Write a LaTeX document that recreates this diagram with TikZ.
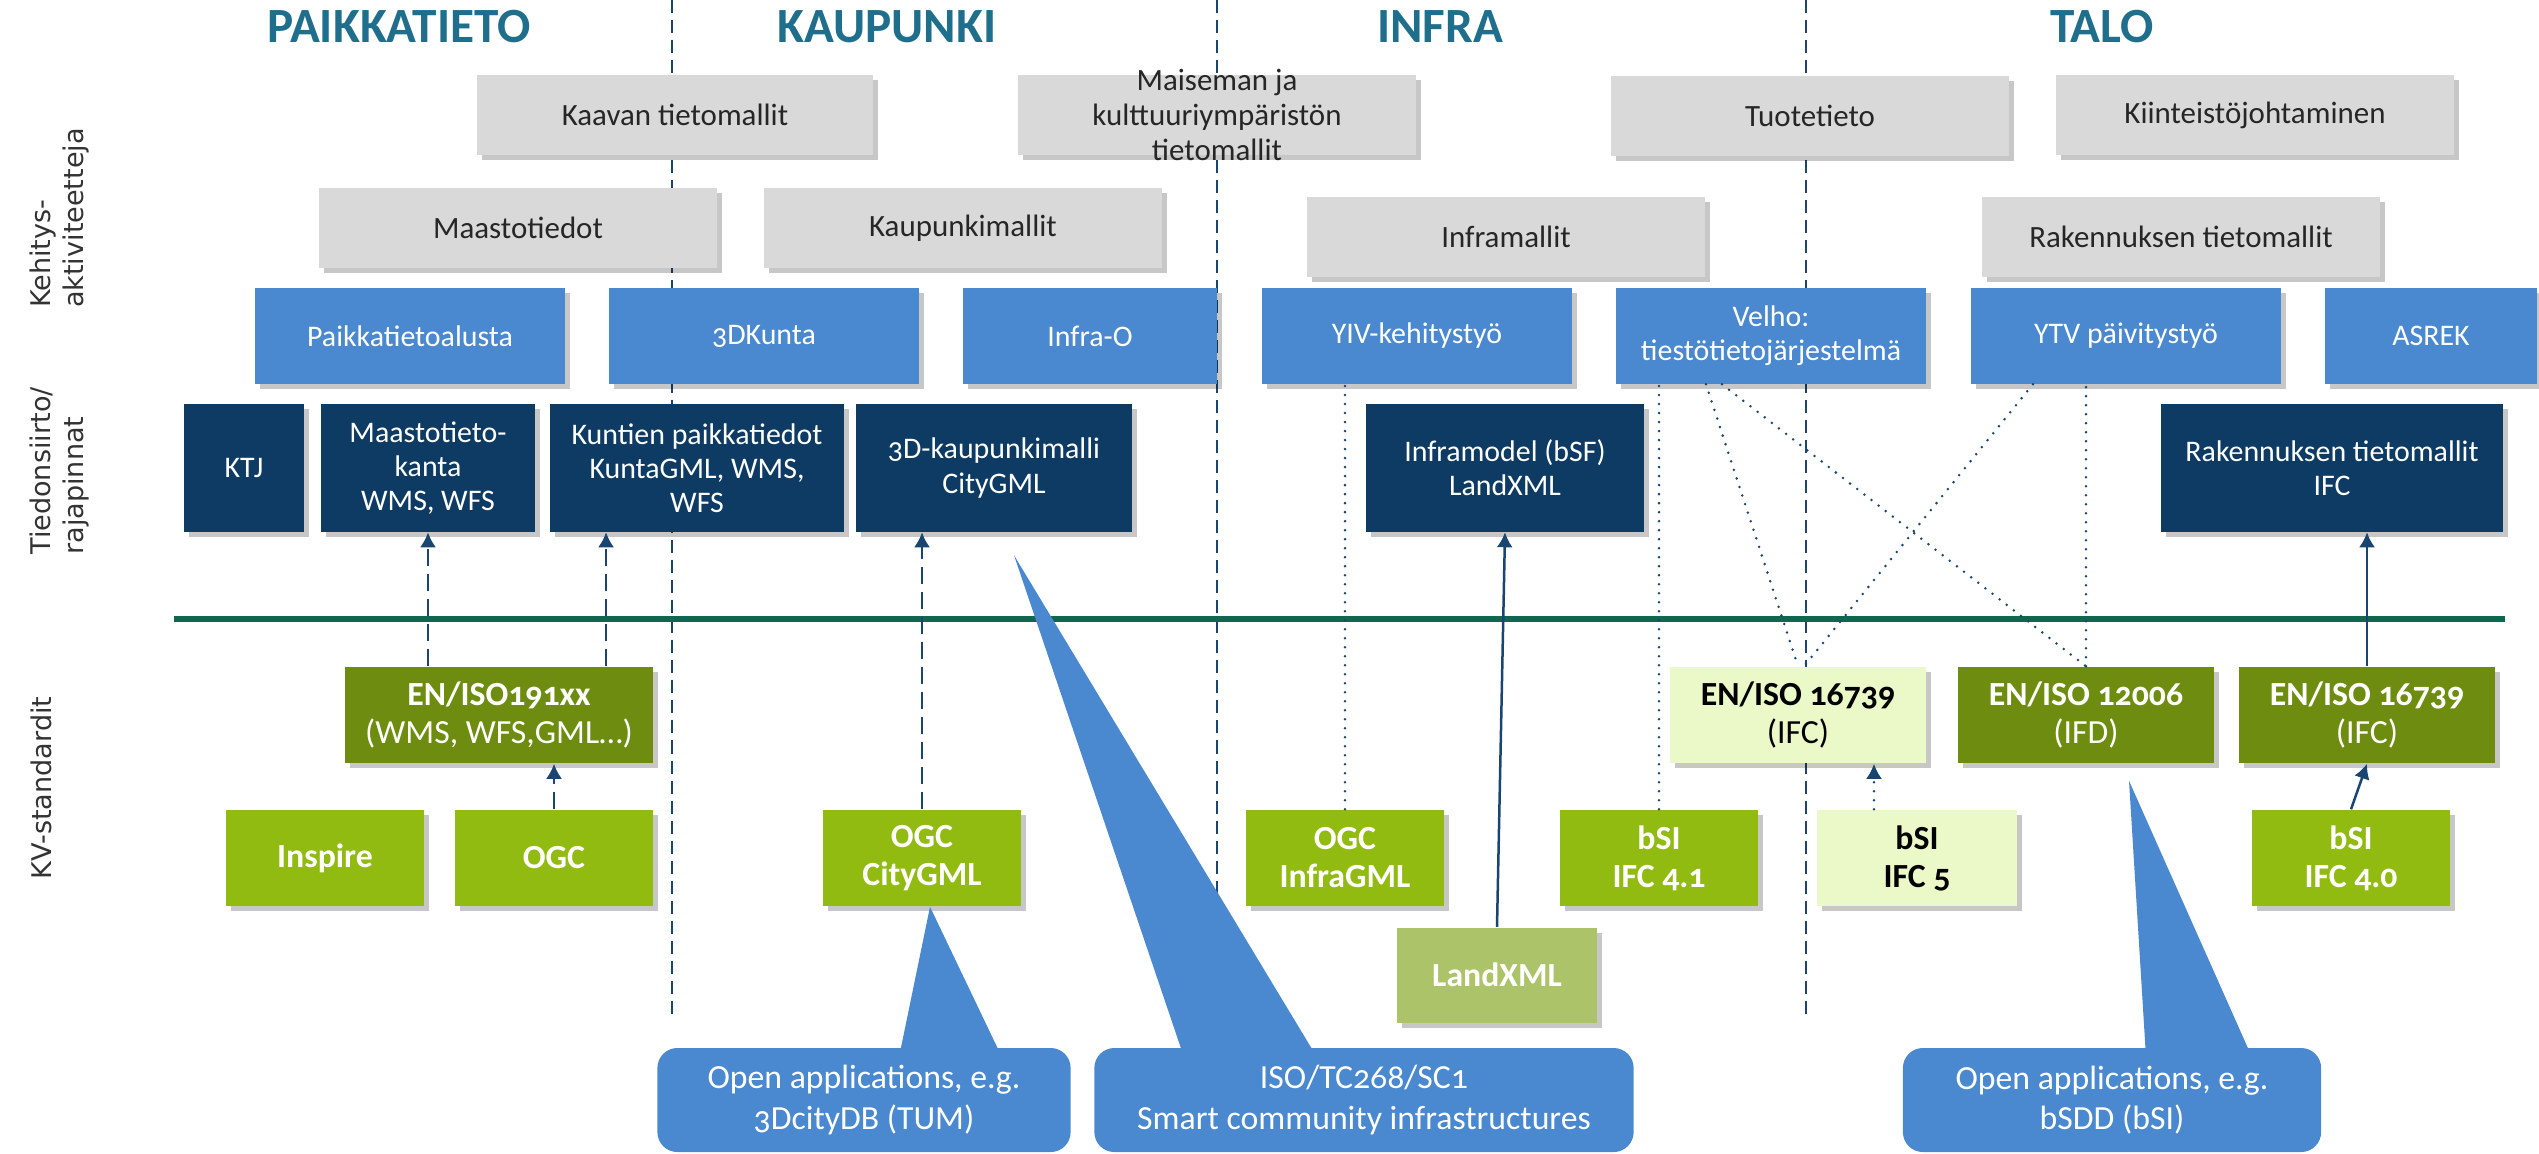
\documentclass[tikz,border=0pt]{standalone}
\usepackage{fontspec}
\setmainfont{Carlito}[Numbers=OldStyle]
\newfontfamily\sidefont{DejaVu Sans}
\usetikzlibrary{calc,shadows,arrows.meta}

\definecolor{titleteal}{HTML}{1F6E8C}
\definecolor{boxgray}{HTML}{D9D9D9}
\definecolor{boxtext}{HTML}{262626}
\definecolor{actblue}{HTML}{4A88CF}
\definecolor{ifnavy}{HTML}{0E3B64}
\definecolor{stdolive}{HTML}{6E8D10}
\definecolor{stdgreen}{HTML}{92BB12}
\definecolor{stdpale}{HTML}{EBF8C8}
\definecolor{landgreen}{HTML}{ACC36A}
\definecolor{bargreen}{HTML}{0E6850}
\definecolor{linenavy}{HTML}{1A4570}
\definecolor{sidegray}{HTML}{333333}

\tikzset{
  sectitle/.style={text=titleteal, font=\fontsize{14}{16}\selectfont\bfseries},
  sidelab/.style={rotate=90, align=left, inner sep=0pt, text=sidegray,
    font={\sidefont\fontsize{7.7}{9.4}\selectfont}},
  boks/.style={inner sep=2pt, align=center,
    drop shadow={shadow xshift=0.05cm, shadow yshift=-0.05cm, opacity=0.22, fill=black}},
  graybox/.style={boks, fill=boxgray, text=boxtext, minimum height=0.8cm,
    font=\fontsize{8.8}{10}\selectfont},
  actbox/.style={boks, fill=actblue, text=white, minimum height=0.95cm,
    font=\fontsize{8.5}{9.7}\selectfont},
  ifbox/.style={boks, fill=ifnavy, text=white, minimum height=1.27cm,
    font=\fontsize{8.5}{9.7}\selectfont},
  stdbox/.style={boks, fill=stdolive, text=white, minimum height=0.96cm,
    font=\fontsize{9.6}{10.8}\selectfont},
  orgbox/.style={stdbox, fill=stdgreen, font=\fontsize{9.6}{10.8}\selectfont\bfseries},
  palebox/.style={text=black, fill=stdpale},
  callbox/.style={fill=actblue, text=white, rounded corners=0.2cm, align=center,
    minimum height=1.04cm, font=\fontsize{9.6}{11.4}\selectfont},
  divider/.style={linenavy, line width=0.025cm, dash pattern=on 0.13cm off 0.07cm},
  dasharrow/.style={linenavy, line width=0.025cm, dash pattern=on 0.17cm off 0.08cm,
    -{Latex[length=0.15cm,width=0.16cm]}},
  solidarrow/.style={linenavy, line width=0.025cm, -{Latex[length=0.15cm,width=0.16cm]}},
  dotline/.style={linenavy, line width=0.028cm, line cap=round, dash pattern=on 0pt off 0.09cm},
  dotarrow/.style={dotline, -{Latex[length=0.15cm,width=0.16cm]}}
}

\begin{document}
\begin{tikzpicture}[x=0.01cm, y=-0.01cm]
\useasboundingbox (0,0) rectangle (2539,1153);

% section dividers and the standards line
\foreach \x in {672,1217,1806}
  \draw[divider] (\x,0) -- (\x,1017);
\draw[bargreen, line width=0.06cm] (174,619) -- (2505,619);

% titles
\node[sectitle] (paikka) at (399,27) {PAIKKATIETO};
\node[sectitle] (kaupunki) at (887,27) {KAUPUNKI};
\node[sectitle] (infra) at (1440,27) {INFRA};
\node[sectitle] (talo) at (2102,27) {TALO};

% row labels
\node[sidelab] (kehlab) at (60,218) {Kehitys-\\aktiviteetteja};
\node[sidelab] (tiedlab) at (60,471) {Tiedonsiirto/\\rajapinnat};
\node[sidelab] (kvlab) at (41,788) {KV-standardit};

% development activities
\node[graybox, minimum width=3.95cm] (kaava) at (675,115) {Kaavan tietomallit};
\node[graybox, minimum width=3.98cm, inner ysep=-0.15cm] (maisema) at (1217,115) {Maiseman ja\\kulttuuriympäristön\\tietomallit};
\node[graybox, minimum width=3.97cm] (tuote) at (1810,116) {Tuotetieto};
\node[graybox, minimum width=3.98cm] (kiint) at (2255,115) {Kiinteistöjohtaminen};
\node[graybox, minimum width=3.97cm] (maasto) at (518,228) {Maastotiedot};
\node[graybox, minimum width=3.97cm] (kaupmal) at (963,228) {Kaupunkimallit};
\node[graybox, minimum width=3.97cm] (inframal) at (1506,237) {Inframallit};
\node[graybox, minimum width=3.97cm] (raktm) at (2181,237) {Rakennuksen tietomallit};

\node[actbox, minimum width=3.10cm] (paikal) at (410,336) {Paikkatietoalusta};
\node[actbox, minimum width=3.09cm] (kunta) at (764,336) {3DKunta};
\node[actbox, minimum width=2.53cm] (infrao) at (1090,336) {Infra-O};
\node[actbox, minimum width=3.10cm] (yiv) at (1417,336) {YIV-kehitystyö};
\node[actbox, minimum width=3.10cm] (velho) at (1771,336) {Velho:\\tiestötietojärjestelmä};
\node[actbox, minimum width=3.10cm] (ytv) at (2126,336) {YTV päivitystyö};
\node[actbox, minimum width=2.12cm] (asrek) at (2431,336) {ASREK};

% interfaces
\node[ifbox, minimum width=1.20cm] (ktj) at (244,468) {KTJ};
\node[ifbox, minimum width=2.13cm] (mtk) at (428,468) {Maastotieto-\\kanta\\WMS, WFS};
\node[ifbox, minimum width=2.93cm] (kuntien) at (697,468) {Kuntien paikkatiedot\\KuntaGML, WMS,\\WFS};
\node[ifbox, minimum width=2.75cm] (kaup3d) at (994,468) {3D-kaupunkimalli\\CityGML};
\node[ifbox, minimum width=2.78cm] (infmod) at (1505,468) {Inframodel (bSF)\\LandXML};
\node[ifbox, minimum width=3.42cm] (rakifc) at (2332,468) {Rakennuksen tietomallit\\IFC};

% standards
\node[stdbox, minimum width=3.07cm] (en191) at (499,715) {\textbf{EN/ISO191xx}\\(WMS, WFS,GML\dots)};
\node[stdbox, palebox, minimum width=2.55cm] (en16739a) at (1798,715) {\textbf{EN/ISO 16739}\\(IFC)};
\node[stdbox, minimum width=2.56cm] (en12006) at (2086,715) {\textbf{EN/ISO 12006}\\(IFD)};
\node[stdbox, minimum width=2.55cm] (en16739b) at (2367,715) {\textbf{EN/ISO 16739}\\(IFC)};

\node[orgbox, minimum width=1.97cm] (inspire) at (325,858) {Inspire};
\node[orgbox, minimum width=1.98cm] (ogc) at (554,858) {OGC};
\node[orgbox, minimum width=1.97cm] (ogccity) at (922,858) {OGC\\CityGML};
\node[orgbox, minimum width=1.97cm] (infragml) at (1345,858) {OGC\\InfraGML};
\node[orgbox, minimum width=1.98cm] (bsi41) at (1659,858) {bSI\\IFC 4.1};
\node[orgbox, palebox, minimum width=1.99cm] (bsi5) at (1917,858) {bSI\\IFC 5};
\node[orgbox, minimum width=1.98cm] (bsi40) at (2351,858) {bSI\\IFC 4.0};
\node[orgbox, fill=landgreen, minimum width=1.99cm, minimum height=0.95cm] (landxml) at (1497,975) {LandXML};

% connectors
\draw[dasharrow] (mtk.south |- en191.north) -- (mtk.south);
\draw[dasharrow] ([xshift=1.07cm]en191.north) -- ([xshift=1.07cm]en191.north |- kuntien.south);
\draw[dasharrow] (ogc.north) -- (ogc.north |- en191.south);
\draw[dasharrow] (ogccity.north) -- (ogccity.north |- kaup3d.south);
\draw[solidarrow] (landxml.north) -- (infmod.south);
\draw[solidarrow] (bsi40.north) -- (en16739b.south);
\draw[solidarrow] (en16739b.north) -- (en16739b.north |- rakifc.south);
\draw[dotline] (infragml.north) -- (infragml.north |- yiv.south);
\draw[dotline] (bsi41.north) -- (bsi41.north |- velho.south);
\draw[dotline] ([xshift=-0.65cm]velho.south) -- (en16739a.north);
\draw[dotline] ([xshift=-0.49cm]velho.south) -- (en12006.north);
\draw[dotline] ([xshift=-0.93cm]ytv.south) -- ([xshift=0.06cm]en16739a.north);
\draw[dotline] (en12006.north) -- (en12006.north |- ytv.south);
\draw[dotarrow] ([xshift=-0.43cm]bsi5.north) -- ([xshift=-0.43cm]bsi5.north |- en16739a.south);

% callouts
\node[callbox, minimum width=4.13cm] (app1) at (864,1100) {Open applications, e.g.\\3DcityDB (TUM)};
\node[callbox, minimum width=5.39cm] (iso) at (1364,1100) {ISO/TC268/SC1\\Smart community infrastructures};
\node[callbox, minimum width=4.18cm] (app2) at (2112,1100) {Open applications, e.g.\\bSDD (bSI)};
\fill[actblue] ($(ogccity.south)+(8,0)$) -- ($(app1.north)+(35,10)$) -- ($(app1.north)+(138,10)$) -- cycle;
\fill[actblue] ($(kaup3d.south)+(20,23)$) -- ($(iso.north)+(-180,10)$) -- ($(iso.north)+(-47,10)$) -- cycle;
\fill[actblue] ($(en12006.south)+(43,17)$) -- ($(app2.north)+(34,10)$) -- ($(app2.north)+(140,10)$) -- cycle;

\end{tikzpicture}
\end{document}
